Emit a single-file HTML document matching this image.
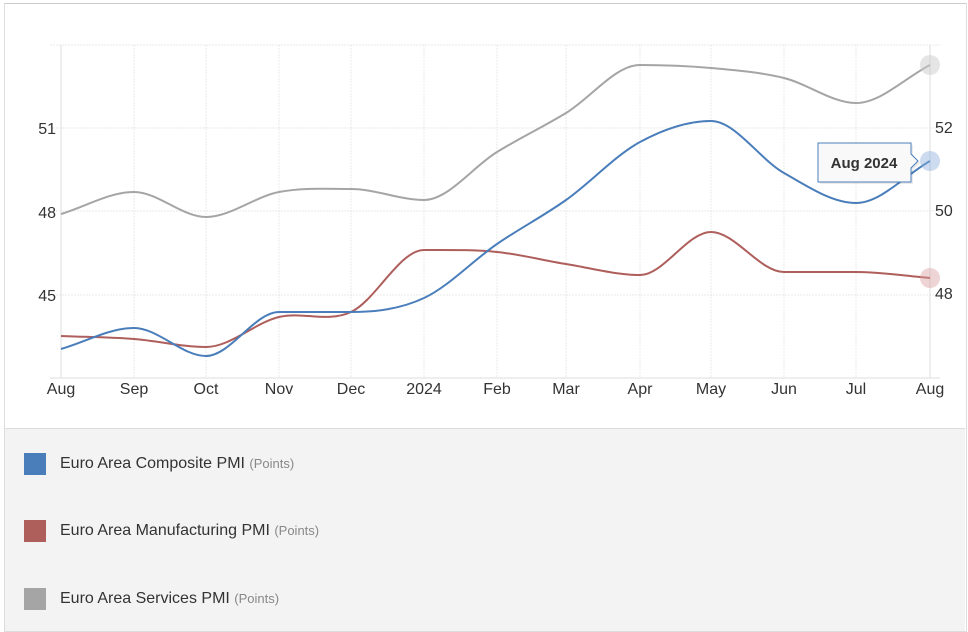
<!DOCTYPE html>
<html><head><style>
body{margin:0;width:968px;height:631px;overflow:hidden;background:#fff;font-family:"Liberation Sans",Arial,sans-serif;}
.frame{position:absolute;left:4px;top:3px;width:961px;height:627px;border:1px solid #ddd;border-top:1px solid #ccc;}
.leg{position:absolute;left:5px;top:428px;width:960px;height:202px;background:#f3f3f3;border-top:1px solid #ddd;}
.item{position:absolute;left:19px;font-size:16px;color:#333;}
.sw{display:inline-block;width:22px;height:22px;vertical-align:middle;margin-right:14px;}
.u{color:#888;font-size:13px;}
</style></head><body>
<div class="frame"></div>
<svg width="968" height="428" style="position:absolute;left:0;top:0" font-family="Liberation Sans,Arial,sans-serif">
<g stroke="#e8e8e8" stroke-dasharray="2,1">
<line x1="50" y1="45" x2="940" y2="45"/><line x1="50" y1="128" x2="940" y2="128"/><line x1="50" y1="211" x2="940" y2="211"/><line x1="50" y1="295" x2="940" y2="295"/>
<line x1="134" y1="45" x2="134" y2="378"/><line x1="206" y1="45" x2="206" y2="378"/><line x1="279" y1="45" x2="279" y2="378"/><line x1="351" y1="45" x2="351" y2="378"/><line x1="424" y1="45" x2="424" y2="378"/><line x1="497" y1="45" x2="497" y2="378"/><line x1="566" y1="45" x2="566" y2="378"/><line x1="640" y1="45" x2="640" y2="378"/><line x1="711" y1="45" x2="711" y2="378"/><line x1="784" y1="45" x2="784" y2="378"/><line x1="856" y1="45" x2="856" y2="378"/>
</g>
<line x1="61" y1="45" x2="61" y2="378" stroke="#ddd"/><line x1="930" y1="45" x2="930" y2="378" stroke="#ddd"/>
<line x1="50" y1="378" x2="940" y2="378" stroke="#ddd"/>
<g font-size="16" fill="#333" text-anchor="end"><text x="56" y="134">51</text><text x="56" y="218">48</text><text x="56" y="301">45</text></g>
<g font-size="16" fill="#333"><text x="935" y="133">52</text><text x="935" y="216">50</text><text x="935" y="299">48</text></g>
<g font-size="16" fill="#333" text-anchor="middle">
<text x="61" y="394">Aug</text><text x="134" y="394">Sep</text><text x="206" y="394">Oct</text><text x="279" y="394">Nov</text><text x="351" y="394">Dec</text><text x="424" y="394">2024</text><text x="497" y="394">Feb</text><text x="566" y="394">Mar</text><text x="640" y="394">Apr</text><text x="711" y="394">May</text><text x="784" y="394">Jun</text><text x="856" y="394">Jul</text><text x="930" y="394">Aug</text></g>
<g id="lines" fill="none" stroke-width="2"></g>
<circle cx="930" cy="65" r="10" fill="#ccc" opacity="0.5"/>
<circle cx="930" cy="161" r="10" fill="#8fb0dc" opacity="0.45"/>
<circle cx="930" cy="278" r="10" fill="#d9a0a0" opacity="0.45"/>
<path d="M820,145 H913 V156 L920,163 L913,170 V184 H820 Z" fill="#000" opacity="0.08"/>
<path d="M818,143 H911 V154 L918,161 L911,168 V182 H818 Z" fill="#f9f9f9" stroke="#4a7ebb"/>
<text x="864" y="168" font-size="15" font-weight="bold" fill="#333" text-anchor="middle">Aug 2024</text>
</svg>
<div class="leg">
<div class="item" style="top:24px"><span class="sw" style="background:#4a7ebb"></span>Euro Area Composite PMI <span class="u">(Points)</span></div>
<div class="item" style="top:91px"><span class="sw" style="background:#ae5e5b"></span>Euro Area Manufacturing PMI <span class="u">(Points)</span></div>
<div class="item" style="top:159px"><span class="sw" style="background:#a5a5a5"></span>Euro Area Services PMI <span class="u">(Points)</span></div>
</div>
<script>
var X=[61,134,206,279,351,424,497,566,640,711,784,856,930];
var S={"#a5a5a5":[214,192,217,192,189,200,152,113,65,68,78,103,65],
"#ae5e5b":[336,339,347,317,312,250,252,264,275,232,272,272,278],
"#4a7ebb":[349,328,356,312,312,298,244,200,142,121,173,203,161]};
var g=document.getElementById('lines');
for(var c in S){var Y=S[c],n=X.length,m=[];
for(var i=0;i<n;i++){var a=i?(Y[i]-Y[i-1])/(X[i]-X[i-1]):null,b=i<n-1?(Y[i+1]-Y[i])/(X[i+1]-X[i]):null;
if(a===null)m[i]=b;else if(b===null)m[i]=a;else if(a*b<=0)m[i]=0;else m[i]=(a+b)/2;}
var d="M"+X[0]+","+Y[0];
for(var i=0;i<n-1;i++){var h=(X[i+1]-X[i])/3;d+=" C"+(X[i]+h)+","+(Y[i]+m[i]*h)+" "+(X[i+1]-h)+","+(Y[i+1]-m[i+1]*h)+" "+X[i+1]+","+Y[i+1];}
var p=document.createElementNS("http://www.w3.org/2000/svg","path");p.setAttribute("d",d);p.setAttribute("stroke",c);g.appendChild(p);}
</script>
</body></html>
